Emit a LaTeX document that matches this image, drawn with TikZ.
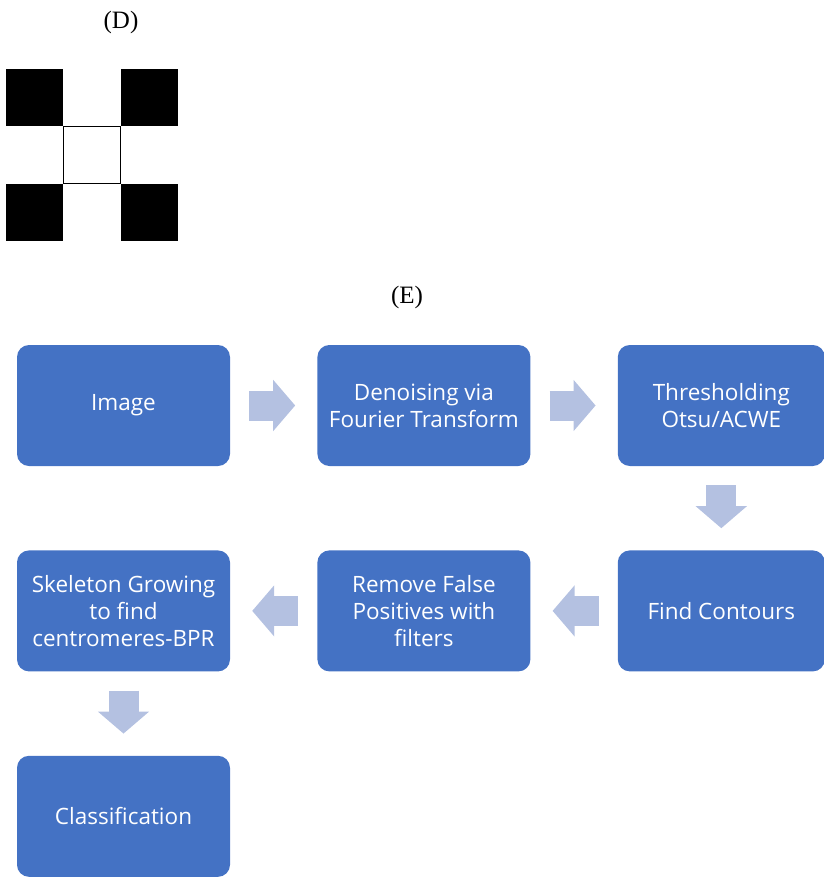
\documentclass[tikz,border=0pt]{standalone}
\usepackage{fontspec}
\setmainfont{Liberation Serif}
\newfontfamily\stagefont{Open Sans}
\usetikzlibrary{positioning,arrows.meta}
\definecolor{stageblue}{RGB}{68,114,196}
\definecolor{flowgrey}{RGB}{180,193,225}
\tikzset{
  stage/.style={fill=stageblue, rounded corners=12pt, minimum width=213pt,
    minimum height=121pt, inner sep=0pt, align=center, text=white,
    font=\stagefont\fontsize{22.5}{27}\selectfont},
  flow/.style={draw=flowgrey, line width=30pt,
    -{Triangle[length=22pt,width=50pt]}, shorten <=19pt, shorten >=22pt},
  panel/.style={font=\fontsize{25}{29}\selectfont}
}

\begin{document}
\begin{tikzpicture}[x=1pt,y=-1pt]
  \useasboundingbox (0,0) rectangle (824,878);
  \def\cs{57.3} % cell size
  % --- panel (D): 3x3 pattern ---
  \node[panel] (labD) at (121,22) {(D)};
  \foreach \cx/\cy in {0/0, 2/0, 0/2, 2/2}{%
    \fill[black] (6+\cx*\cs,69+\cy*\cs) rectangle ++(\cs,\cs);}
  \draw[line width=1.3pt] (6+\cs,69+\cs) rectangle ++(\cs,\cs);
  % --- panel (E): pipeline ---
  \node[panel] (labE) at (407,297) {(E)};
  \node[stage] (img) at (123.5,405.5) {Image};
  \node[stage, right=87pt of img] (den) {Denoising via\\Fourier Transform};
  \node[stage, right=87pt of den, minimum width=207pt] (thr) {Thresholding\\Otsu/ACWE};
  \node[stage, below=84pt of thr, minimum width=207pt] (ctr) {Find Contours};
  \node[stage, left=87pt of ctr] (rmv) {Remove False\\Positives with\\filters};
  \node[stage, left=87pt of rmv] (skl) {Skeleton Growing\\to find\\centromeres-BPR};
  \node[stage, below=84pt of skl] (cls) {Classification};
  % --- block arrows ---
  \draw[flow] (img.east) -- (den.west);
  \draw[flow] (den.east) -- (thr.west);
  \draw[flow] (thr.south) -- (ctr.north);
  \draw[flow] (ctr.west) -- (rmv.east);
  \draw[flow] (rmv.west) -- (skl.east);
  \draw[flow] (skl.south) -- (cls.north);
\end{tikzpicture}
\end{document}
